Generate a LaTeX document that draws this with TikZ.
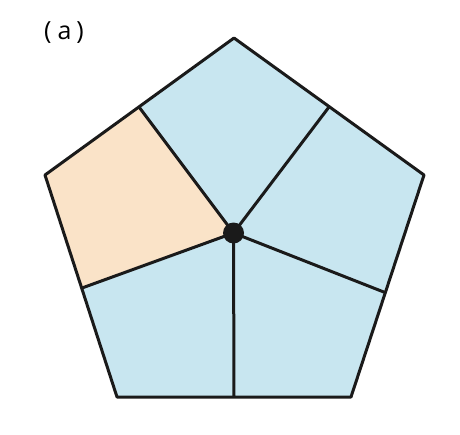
\documentclass[tikz,border=0pt]{standalone}
\usepackage{fontspec}
\setmainfont{Open Sans}
\definecolor{cblue}{HTML}{C8E6F0}
\definecolor{corange}{HTML}{FAE3C8}
\definecolor{cline}{HTML}{1A1A1A}
\begin{document}
\begin{tikzpicture}[x=1pt,y=-1pt,
  edge/.style={draw=cline,line width=3pt,line join=round},
  inner/.style={draw=cline,line width=3pt}]
\useasboundingbox (0,0) rectangle (460,434);
\coordinate (T) at (234,38);
\coordinate (UR) at (424,175);
\coordinate (LR) at (351,397);
\coordinate (LL) at (117,397);
\coordinate (UL) at (45,175);
\coordinate (O) at (233.5,233);
\coordinate (mTL) at (139,107);
\coordinate (mTR) at (329,107);
\coordinate (mR) at (385,292.5);
\coordinate (mB) at (234,397);
\coordinate (mL) at (82,288);
\fill[cblue] (T) -- (UR) -- (LR) -- (LL) -- (UL) -- cycle;
\fill[corange] (mTL) -- (UL) -- (mL) -- (O) -- cycle;
\draw[inner] (O) -- (mTL);
\draw[inner] (O) -- (mTR);
\draw[inner] (O) -- (mR);
\draw[inner] (O) -- (mB);
\draw[inner] (O) -- (mL);
\draw[edge] (T) -- (UR) -- (LR) -- (LL) -- (UL) -- cycle;
\fill[cline] (O) circle (10.5);
\node[font=\fontsize{25}{27}\selectfont,anchor=center,inner sep=0pt] (lab) at (64,32.5) {(\kern6pt a\kern5pt)};
\end{tikzpicture}
\end{document}
